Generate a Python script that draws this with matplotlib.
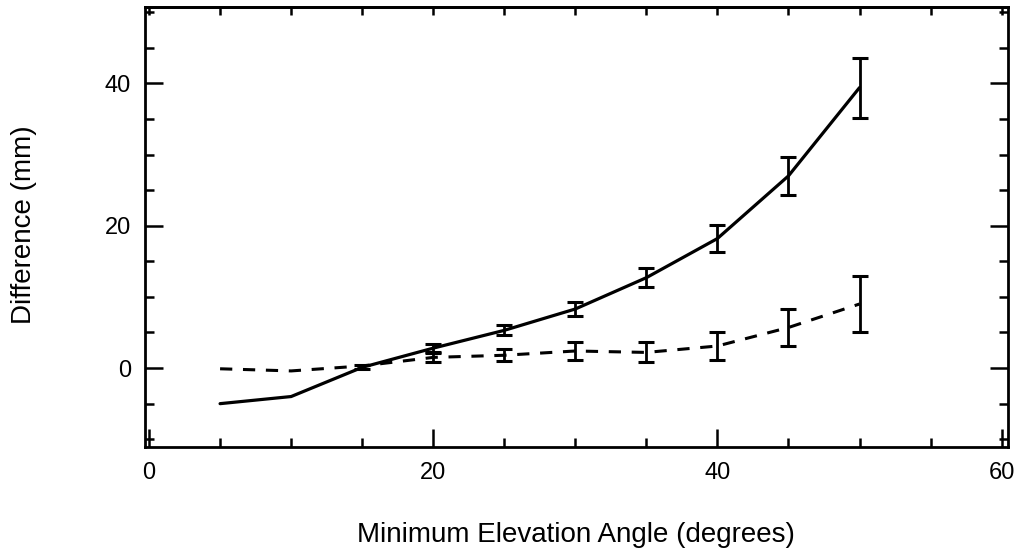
import matplotlib
matplotlib.use("Agg")
import matplotlib.pyplot as plt
from matplotlib.ticker import MultipleLocator

# --- Data ---
angles = [5, 10, 15, 20, 25, 30, 35, 40, 45, 50]

solid_diff = [-5.0, -4.0, 0.1, 2.8, 5.3, 8.3, 12.7, 18.2, 27.0, 39.4]
solid_err_x = [15, 20, 25, 30, 35, 40, 45, 50]
solid_err_y = [0.1, 2.8, 5.3, 8.3, 12.7, 18.2, 27.0, 39.4]
solid_err = [0.3, 0.6, 0.7, 1.0, 1.3, 1.9, 2.7, 4.2]

dashed_diff = [-0.1, -0.4, 0.3, 1.5, 1.8, 2.4, 2.2, 3.1, 5.7, 9.0]
dashed_err_x = [20, 25, 30, 35, 40, 45, 50]
dashed_err_y = [1.5, 1.8, 2.4, 2.2, 3.1, 5.7, 9.0]
dashed_err = [0.6, 0.85, 1.25, 1.4, 2.0, 2.6, 3.9]

x_ticks = [0, 20, 40, 60]
y_ticks = [0, 20, 40]

plt.rcParams["font.family"] = ["Liberation Sans", "DejaVu Sans"]

fig = plt.figure(figsize=(10.25, 5.54), dpi=100)
ax = fig.add_axes([0.1415, 0.193, 0.8415, 0.794])

# --- Curves ---
ax.plot(angles, solid_diff, color="black", lw=2.3, solid_capstyle="round")
ax.errorbar(solid_err_x, solid_err_y, yerr=solid_err, fmt="none",
            ecolor="black", elinewidth=2, capsize=6, capthick=2.2)

ax.plot(angles, dashed_diff, color="black", lw=2.2, dashes=(4, 3.5))
ax.errorbar(dashed_err_x, dashed_err_y, yerr=dashed_err, fmt="none",
            ecolor="black", elinewidth=2, capsize=6, capthick=2.2)

# --- Axes ---
ax.set_xlim(-0.28, 60.42)
ax.set_ylim(-11.1, 50.7)
ax.set_xticks(x_ticks)
ax.set_yticks(y_ticks)
ax.xaxis.set_minor_locator(MultipleLocator(5))
ax.yaxis.set_minor_locator(MultipleLocator(5))

for s in ax.spines.values():
    s.set_linewidth(2)

ax.tick_params(which="major", direction="in", length=13, width=1.8,
               labelsize=17, right=True, top=False)
ax.tick_params(which="minor", direction="in", length=6.5, width=1.8,
               right=True, top=False)
ax.tick_params(axis="x", which="major", pad=11)
ax.tick_params(axis="y", which="major", pad=10)

# short ticks along the top edge
top = ax.secondary_xaxis("top")
top.set_xticks(x_ticks)
top.xaxis.set_minor_locator(MultipleLocator(5))
top.tick_params(which="both", direction="in", length=6, width=1.8,
                labeltop=False)
top.spines["top"].set_linewidth(2)

ax.set_xlabel("Minimum Elevation Angle (degrees)", fontsize=20)
ax.set_ylabel("Difference (mm)", fontsize=20)
ax.xaxis.set_label_coords(0.5, -0.17)
ax.yaxis.set_label_coords(-0.125, 0.505)

fig.savefig("out.png", dpi=100)
